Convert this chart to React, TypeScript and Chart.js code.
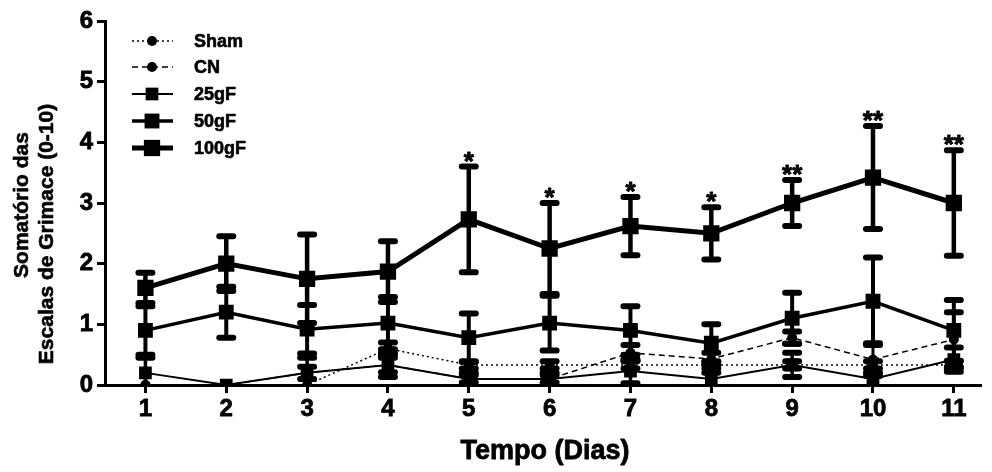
import { useEffect, useRef } from "react";
import { Chart, registerables } from "chart.js";
Chart.register(...registerables);

const days = [1, 2, 3, 4, 5, 6, 7, 8, 9, 10, 11];
const xTickLabels = ["1", "2", "3", "4", "5", "6", "7", "8", "9", "10", "11"];
const yTickValues = [0, 1, 2, 3, 4, 5, 6];

const shamMean = [0, 0, 0, 0.6, 0.33, 0.33, 0.33, 0.33, 0.33, 0.33, 0.33];
const shamErr = [0, 0, 0, 0.1, 0.06, 0.06, 0.06, 0.06, 0.06, 0.06, 0.06];
const cnMean = [0, 0, 0.2, 0.33, 0.1, 0.1, 0.53, 0.43, 0.78, 0.42, 0.75];
const cnErr = [0, 0, 0.1, 0.12, 0.06, 0.06, 0.13, 0.1, 0.1, 0.27, 0.45];
const g25Mean = [0.2, 0, 0.2, 0.33, 0.1, 0.1, 0.23, 0.1, 0.33, 0.1, 0.42];
const g25Err = [0.25, 0, 0.25, 0.2, 0.1, 0.1, 0.2, 0.1, 0.2, 0.1, 0.2];
const g50Mean = [0.9, 1.2, 0.92, 1.02, 0.78, 1.02, 0.9, 0.69, 1.1, 1.38, 0.9];
const g50Err = [0.4, 0.42, 0.4, 0.43, 0.4, 0.45, 0.4, 0.31, 0.42, 0.72, 0.5];
const g100Mean = [1.6, 2.0, 1.75, 1.87, 2.73, 2.25, 2.62, 2.5, 3.0, 3.42, 3.0];
const g100Err = [0.25, 0.45, 0.73, 0.5, 0.87, 0.75, 0.48, 0.43, 0.38, 0.85, 0.87];
const significance = ["", "", "", "", "*", "*", "*", "*", "**", "**", "**"];

const seriesNames = ["Sham", "CN", "25gF", "50gF", "100gF"];

const FONT = "'Liberation Sans', Arial, sans-serif";

type Series = {
  name: string;
  mean: number[];
  err: number[];
  lineWidth: number;
  dash: number[];
  pointStyle: string;
  radius: number;
  barWidth: number;
};

const series: Series[] = [
  { name: seriesNames[0], mean: shamMean, err: shamErr, lineWidth: 1.5, dash: [2, 3], pointStyle: "circle", radius: 5, barWidth: 3 },
  { name: seriesNames[1], mean: cnMean, err: cnErr, lineWidth: 1.5, dash: [6, 4], pointStyle: "circle", radius: 5, barWidth: 3 },
  { name: seriesNames[2], mean: g25Mean, err: g25Err, lineWidth: 2, dash: [], pointStyle: "rect", radius: 9, barWidth: 3.5 },
  { name: seriesNames[3], mean: g50Mean, err: g50Err, lineWidth: 3.5, dash: [], pointStyle: "rect", radius: 10.5, barWidth: 4 },
  { name: seriesNames[4], mean: g100Mean, err: g100Err, lineWidth: 5, dash: [], pointStyle: "rect", radius: 11.5, barWidth: 4.5 },
];

function heavyText(ctx: CanvasRenderingContext2D, text: string, x: number, y: number, sw: number) {
  ctx.lineWidth = sw;
  ctx.setLineDash([]);
  ctx.strokeStyle = "#000";
  ctx.lineJoin = "round";
  ctx.strokeText(text, x, y);
  ctx.fillText(text, x, y);
}

const errorBarPlugin = {
  id: "errorBars",
  afterDatasetsDraw(chart: any) {
    const ctx = chart.ctx;
    const xs = chart.scales.x;
    const ys = chart.scales.y;
    ctx.save();
    ctx.strokeStyle = "#000";
    series.forEach((s) => {
      s.mean.forEach((m, i) => {
        const e = s.err[i];
        if (!e) return;
        const px = xs.getPixelForValue(days[i]);
        const top = ys.getPixelForValue(m + e);
        const lowV = m - e;
        const bot = ys.getPixelForValue(Math.max(0, lowV));
        ctx.setLineDash([]);
        ctx.lineCap = "butt";
        ctx.lineWidth = s.barWidth;
        ctx.beginPath();
        ctx.moveTo(px, top);
        ctx.lineTo(px, bot);
        ctx.stroke();
        ctx.lineCap = "round";
        ctx.lineWidth = 6;
        ctx.beginPath();
        ctx.moveTo(px - 7, top);
        ctx.lineTo(px + 7, top);
        if (lowV > 0) {
          ctx.moveTo(px - 7, bot);
          ctx.lineTo(px + 7, bot);
        }
        ctx.stroke();
      });
    });
    ctx.restore();
  },
  afterDraw(chart: any) {
    const ctx = chart.ctx;
    const xs = chart.scales.x;
    const ys = chart.scales.y;
    ctx.save();
    ctx.fillStyle = "#000";
    // significance stars
    ctx.font = `bold 26px ${FONT}`;
    ctx.textAlign = "center";
    ctx.textBaseline = "alphabetic";
    significance.forEach((sig, i) => {
      if (!sig) return;
      const px = xs.getPixelForValue(days[i]);
      const capY = ys.getPixelForValue(g100Mean[i] + g100Err[i]);
      heavyText(ctx, sig, px, capY + 3, 0.8);
    });
    // legend
    const rowY = [41, 67, 94, 121, 148];
    series.forEach((s, k) => {
      const y = rowY[k];
      ctx.strokeStyle = "#000";
      ctx.lineWidth = s.lineWidth;
      ctx.setLineDash(s.dash);
      ctx.lineCap = "butt";
      ctx.beginPath();
      ctx.moveTo(132, y);
      ctx.lineTo(173, y);
      ctx.stroke();
      ctx.setLineDash([]);
      if (s.pointStyle === "circle") {
        ctx.beginPath();
        ctx.arc(152, y, s.radius, 0, Math.PI * 2);
        ctx.fill();
      } else {
        const h = s.radius * Math.SQRT1_2;
        ctx.fillRect(152 - h, y - h, 2 * h, 2 * h);
      }
      ctx.font = `bold 18px ${FONT}`;
      ctx.textAlign = "left";
      ctx.textBaseline = "middle";
      heavyText(ctx, s.name, 194, y + 1, 0.6);
    });
    // axis titles
    ctx.font = `bold 27px ${FONT}`;
    ctx.textAlign = "center";
    ctx.textBaseline = "middle";
    heavyText(ctx, "Tempo (Dias)", 545, 452, 0.8);
    ctx.font = `bold 21px ${FONT}`;
    ctx.save();
    ctx.translate(22, 205);
    ctx.rotate(-Math.PI / 2);
    heavyText(ctx, "Somatório das", 0, 0, 0.6);
    ctx.restore();
    ctx.save();
    ctx.translate(47, 234);
    ctx.rotate(-Math.PI / 2);
    heavyText(ctx, "Escalas de Grimace (0-10)", 0, 0, 0.6);
    ctx.restore();
    ctx.restore();
  },
};

export default function App() {
  const ref = useRef<HTMLCanvasElement | null>(null);
  useEffect(() => {
    document.body.style.margin = "0";
    const canvas = ref.current;
    if (!canvas) return;
    const chart = new Chart(canvas, {
      type: "line",
      data: {
        datasets: series.map((s) => ({
          label: s.name,
          data: days.map((d, i) => ({ x: d, y: s.mean[i] })),
          borderColor: "#000",
          backgroundColor: "#000",
          borderWidth: s.lineWidth,
          borderDash: s.dash,
          pointStyle: s.pointStyle as any,
          pointRadius: s.radius,
          pointBackgroundColor: "#000",
          pointBorderColor: "#000",
          pointBorderWidth: 0,
          tension: 0,
          fill: false,
        })),
      },
      options: {
        responsive: false,
        animation: false,
        devicePixelRatio: 1,
        layout: { padding: { top: 21, right: 7, left: 0, bottom: 0 } },
        plugins: { legend: { display: false }, tooltip: { enabled: false }, title: { display: false } },
        scales: {
          x: {
            type: "linear",
            min: 0.5,
            max: 11.33,
            afterBuildTicks: (scale: any) => {
              scale.ticks = days.map((v) => ({ value: v }));
            },
            afterFit: (scale: any) => {
              scale.height = 87;
            },
            ticks: {
              color: "#000",
              font: { family: FONT, size: 24, weight: "bold" },
              padding: 2,
              maxRotation: 0,
              autoSkip: false,
              textStrokeColor: "#000",
              textStrokeWidth: 0.8,
              callback: (v: any) => {
                const idx = days.indexOf(Number(v));
                return idx >= 0 ? xTickLabels[idx] : "";
              },
            },
            grid: { drawOnChartArea: false, drawTicks: true, tickLength: 8, color: "#000", lineWidth: 3 },
            border: { display: true, color: "#000", width: 3 },
          },
          y: {
            type: "linear",
            min: 0,
            max: 6,
            afterBuildTicks: (scale: any) => {
              scale.ticks = yTickValues.map((v) => ({ value: v }));
            },
            afterFit: (scale: any) => {
              scale.width = 105;
            },
            ticks: {
              color: "#000",
              font: { family: FONT, size: 24, weight: "bold" },
              padding: 4,
              textStrokeColor: "#000",
              textStrokeWidth: 0.8,
            },
            grid: { drawOnChartArea: false, drawTicks: true, tickLength: 8, color: "#000", lineWidth: 3 },
            border: { display: true, color: "#000", width: 3 },
          },
        },
      },
      plugins: [errorBarPlugin],
    });
    return () => chart.destroy();
  }, []);
  return <canvas ref={ref} width={992} height={472} style={{ display: "block" }} />;
}
